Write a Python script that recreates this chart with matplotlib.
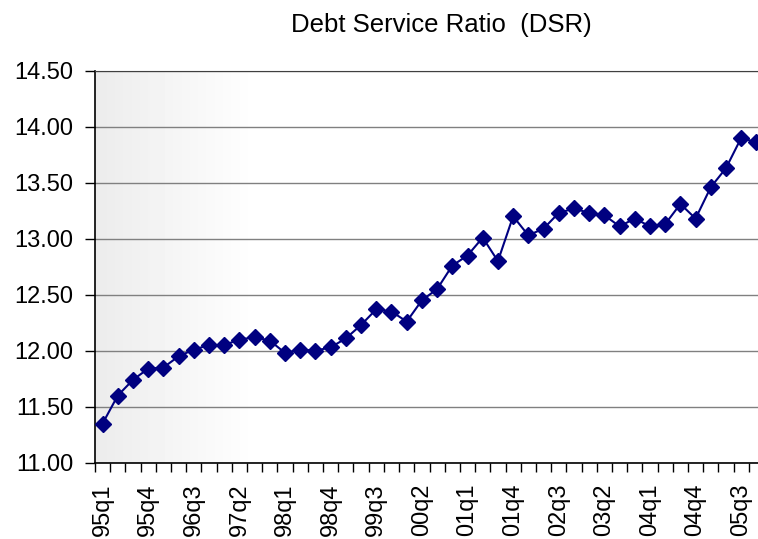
import numpy as np
import matplotlib
matplotlib.use("Agg")
import matplotlib.pyplot as plt

plt.rcParams["font.family"] = ["Liberation Sans", "DejaVu Sans"]

# Quarterly data, 95q1 .. 05q4
quarters = [f"{y:02d}q{q}" for y in list(range(95, 100)) + list(range(0, 6)) for q in range(1, 5)]
dsr = [11.35, 11.60, 11.74, 11.84, 11.85, 11.95, 12.01, 12.05, 12.05, 12.10, 12.12, 12.09,
       11.98, 12.01, 12.00, 12.03, 12.11, 12.23, 12.37, 12.35, 12.26, 12.45, 12.55, 12.76,
       12.85, 13.01, 12.80, 13.20, 13.03, 13.09, 13.23, 13.27, 13.23, 13.21, 13.11, 13.18,
       13.11, 13.13, 13.31, 13.18, 13.46, 13.63, 13.90, 13.86]
y_ticks = [11.0, 11.5, 12.0, 12.5, 13.0, 13.5, 14.0, 14.5]

fig = plt.figure(figsize=(7.58, 5.39), dpi=100)
ax = fig.add_axes([95 / 758, (539 - 462.7) / 539, 669 / 758, 392 / 539])

x = np.arange(len(dsr))
n = len(dsr)

# grey-to-white gradient background on the left part of the plot area
grad = np.clip(0.925 + 0.075 * np.linspace(0, 1, 200) / 0.24, 0, 1)
ax.imshow(np.tile(grad, (2, 1)), cmap="gray", vmin=0, vmax=1, aspect="auto",
          extent=(-0.5, n - 0.5, 11.0, 14.5), zorder=0, interpolation="bilinear")

for yv in y_ticks:
    ax.axhline(yv, color="#808080", lw=1.0, zorder=1)

ax.plot(x, dsr, color="#000080", lw=1.5, marker="D", markersize=8,
        markeredgecolor="#000080", zorder=3, clip_on=False)

ax.set_xlim(-0.5, n - 0.5)
ax.set_ylim(11.0, 14.5)
ax.set_yticks(y_ticks)
ax.set_yticklabels([f"{v:.2f}" for v in y_ticks], fontsize=17)
ax.tick_params(axis="y", direction="out", length=7.5, width=1, pad=8)

ax.set_xticks(np.arange(-0.5, n, 1.0))
ax.set_xticklabels([])
ax.tick_params(axis="x", which="major", direction="out", length=6.5, width=1)
ax.set_xticks(x[::3], minor=True)
ax.set_xticklabels([quarters[i] for i in x[::3]], minor=True, rotation=90, fontsize=17)
ax.tick_params(axis="x", which="minor", length=0, pad=15)

for s in ["left", "bottom"]:
    ax.spines[s].set_color("black")
    ax.spines[s].set_linewidth(1.2)
ax.spines["top"].set_color("#404040")
ax.spines["right"].set_visible(False)

fig.text(441.5 / 758, 1 - 32 / 539, "Debt Service Ratio  (DSR)", ha="center", va="baseline", fontsize=18.5)

fig.savefig("out.png", dpi=100)
